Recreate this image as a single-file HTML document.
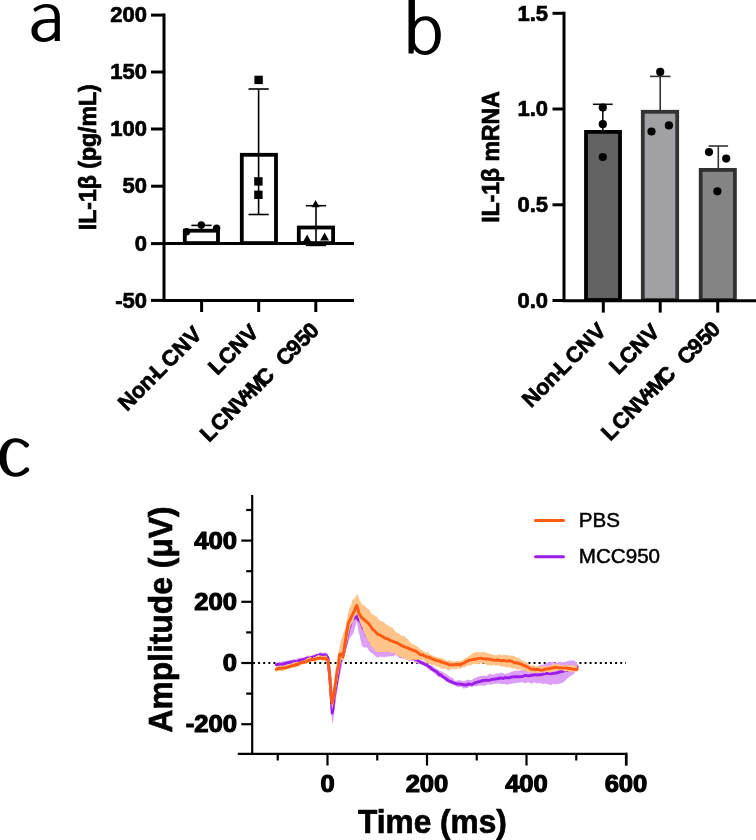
<!DOCTYPE html>
<html><head><meta charset="utf-8"><title>Figure</title>
<style>
html,body{margin:0;padding:0;background:#fff;}
body{width:756px;height:840px;overflow:hidden;font-family:"Liberation Sans",sans-serif;}
svg{display:block;will-change:transform;filter:blur(0.45px);}
svg text{font-family:"Liberation Sans",sans-serif;}
</style></head><body>
<svg width="756" height="840" viewBox="0 0 756 840">
<rect width="756" height="840" fill="#fff"/>
<path transform="translate(20 0) scale(0.07143)" fill="#000" fill-rule="evenodd" d="M185,125 C240,80 310,55 375,55 C480,55 558,110 558,230 L558,575 L485,575 L485,525 C450,565 390,588 330,588 C230,588 160,525 160,430 C160,330 240,265 400,265 L485,265 L485,225 C485,150 440,105 370,105 C310,105 260,130 210,168 Z M485,318 L410,318 C300,318 245,365 245,430 C245,490 280,532 340,532 C400,532 460,490 485,440 Z"/>
<path transform="translate(396 0) scale(0.07143)" fill="#000" fill-rule="evenodd" d="M175,-20 L265,-20 L265,300 C300,250 350,228 420,228 C550,228 628,340 628,490 C628,660 540,770 400,770 C340,770 290,745 250,690 L245,750 L175,750 Z M265,410 C290,330 340,285 405,285 C500,285 548,380 548,500 C548,630 490,715 400,715 C340,715 290,670 265,600 Z"/>
<path transform="translate(0 430) scale(0.07143)" fill="#000" fill-rule="evenodd" d="M398,188 C340,140 280,115 215,115 C80,115 -10,230 -10,390 C-10,550 80,655 215,655 C290,655 350,628 402,578 A36,36 0 0 0 352,528 C315,572 270,600 215,600 C130,600 90,500 90,390 C90,270 135,170 215,170 C270,170 318,195 350,240 A36,36 0 0 0 398,188 Z"/>
<rect x="184.8" y="230.70000000000002" width="33.2" height="12.40" fill="#fff" stroke="#000" stroke-width="3.8"/>
<rect x="241.8" y="154.8" width="34.199999999999974" height="88.30" fill="#fff" stroke="#000" stroke-width="3.8"/>
<rect x="298.79999999999995" y="227.5" width="34.300000000000026" height="15.60" fill="#fff" stroke="#000" stroke-width="3.8"/>
<line x1="201.5" y1="225.4" x2="201.5" y2="230" stroke="#000" stroke-width="1.6" />
<line x1="191.4" y1="225.4" x2="211.6" y2="225.4" stroke="#000" stroke-width="1.6" />
<line x1="258.6" y1="89" x2="258.6" y2="214.5" stroke="#000" stroke-width="1.6" />
<line x1="248.50000000000003" y1="89" x2="268.70000000000005" y2="89" stroke="#000" stroke-width="1.6" />
<line x1="248.50000000000003" y1="214.5" x2="268.70000000000005" y2="214.5" stroke="#000" stroke-width="1.6" />
<line x1="316" y1="205.7" x2="316" y2="245" stroke="#000" stroke-width="1.6" />
<line x1="305.9" y1="205.7" x2="326.1" y2="205.7" stroke="#000" stroke-width="1.6" />
<line x1="305.9" y1="245.4" x2="326.1" y2="245.4" stroke="#000" stroke-width="1.6" />
<line x1="164" y1="243.6" x2="354" y2="243.6" stroke="#000" stroke-width="3" />
<line x1="164" y1="13.6" x2="164" y2="301.9" stroke="#000" stroke-width="3" />
<line x1="162.5" y1="300.4" x2="354" y2="300.4" stroke="#000" stroke-width="3" />
<line x1="151" y1="15.1" x2="164" y2="15.1" stroke="#000" stroke-width="3" />
<text x="147" y="22.2" font-size="22" font-weight="bold" text-anchor="end" fill="#000" stroke="#000" stroke-width="0.7" >200</text>
<line x1="151" y1="72.0" x2="164" y2="72.0" stroke="#000" stroke-width="3" />
<text x="147" y="79.1" font-size="22" font-weight="bold" text-anchor="end" fill="#000" stroke="#000" stroke-width="0.7" >150</text>
<line x1="151" y1="129.0" x2="164" y2="129.0" stroke="#000" stroke-width="3" />
<text x="147" y="136.1" font-size="22" font-weight="bold" text-anchor="end" fill="#000" stroke="#000" stroke-width="0.7" >100</text>
<line x1="151" y1="186.2" x2="164" y2="186.2" stroke="#000" stroke-width="3" />
<text x="147" y="193.29999999999998" font-size="22" font-weight="bold" text-anchor="end" fill="#000" stroke="#000" stroke-width="0.7" >50</text>
<line x1="151" y1="243.6" x2="164" y2="243.6" stroke="#000" stroke-width="3" />
<text x="147" y="250.7" font-size="22" font-weight="bold" text-anchor="end" fill="#000" stroke="#000" stroke-width="0.7" >0</text>
<line x1="151" y1="300.4" x2="164" y2="300.4" stroke="#000" stroke-width="3" />
<text x="147" y="307.5" font-size="22" font-weight="bold" text-anchor="end" fill="#000" stroke="#000" stroke-width="0.7" >-50</text>
<line x1="201.6" y1="300.4" x2="201.6" y2="312" stroke="#000" stroke-width="3" />
<line x1="258.7" y1="300.4" x2="258.7" y2="312" stroke="#000" stroke-width="3" />
<line x1="315.8" y1="300.4" x2="315.8" y2="312" stroke="#000" stroke-width="3" />
<circle cx="201.3" cy="224.9" r="3.7" fill="#000"/>
<circle cx="186.6" cy="231.8" r="3.7" fill="#000"/>
<circle cx="216.6" cy="228.2" r="3.7" fill="#000"/>
<rect x="254.40000000000003" y="75.7" width="8.4" height="8.4" fill="#000"/>
<rect x="254.2" y="177.20000000000002" width="8.4" height="8.4" fill="#000"/>
<rect x="254.2" y="190.60000000000002" width="8.4" height="8.4" fill="#000"/>
<polygon points="315.6,199.9 319.6,207.29999999999998 311.6,207.29999999999998" fill="#000"/>
<polygon points="307.1,234.4 311.5,242.4 302.70000000000005,242.4" fill="#000"/>
<polygon points="324.6,232.5 329.0,240.5 320.20000000000005,240.5" fill="#000"/>
<text x="96.4" y="157.2" font-size="23" font-weight="bold" text-anchor="middle" fill="#000" stroke="#000" stroke-width="0.7" textLength="146" lengthAdjust="spacingAndGlyphs" transform="rotate(-90 96.4 157.2)" >IL-1β (pg/mL)</text>
<text transform="translate(126.9 411.9) rotate(-45) scale(1.0 1)" x="-0.0 15.7 28.9 42.3 45.1 56.9 60.7 76.7 93.3" y="0" font-size="22" font-weight="bold" fill="#000" stroke="#000" stroke-width="0.7">Non-L CNV</text>
<text transform="translate(217.3 376.0) rotate(-45) scale(1.0 1)" x="-0.0 13.6 29.3 45.4" y="0" font-size="22" font-weight="bold" fill="#000" stroke="#000" stroke-width="0.7">LCNV</text>
<text transform="translate(208.9 443.0) rotate(-45) scale(1.0 1)" x="-0.0 14.5 30.5 45.3 55.1 64.7 78.6 107.1 121.6 134.2 145.4" y="0" font-size="22" font-weight="bold" fill="#000" stroke="#000" stroke-width="0.7">LCNV+MCC950</text>
<rect x="586.0" y="131.9" width="33.99999999999996" height="168.10" fill="#636363" stroke="#000" stroke-width="3.8"/>
<rect x="642.8" y="111.80000000000001" width="34.40000000000005" height="188.20" fill="#a1a1a5" stroke="#333" stroke-width="3.8"/>
<rect x="700.6999999999999" y="169.9" width="34.2" height="130.10" fill="#848484" stroke="#303030" stroke-width="3.8"/>
<line x1="602.8" y1="104.3" x2="602.8" y2="131" stroke="#111" stroke-width="1.6" />
<line x1="592.9" y1="104.3" x2="612.6999999999999" y2="104.3" stroke="#111" stroke-width="1.6" />
<line x1="660.2" y1="76.4" x2="660.2" y2="111" stroke="#333" stroke-width="1.6" />
<line x1="649.9000000000001" y1="76.4" x2="670.5" y2="76.4" stroke="#333" stroke-width="1.6" />
<line x1="718.3" y1="146" x2="718.3" y2="169" stroke="#333" stroke-width="1.6" />
<line x1="708.5" y1="146" x2="728.0999999999999" y2="146" stroke="#333" stroke-width="1.6" />
<circle cx="602.8" cy="107.5" r="4.1" fill="#000"/>
<circle cx="602.8" cy="124.2" r="4.1" fill="#000"/>
<circle cx="602.8" cy="157" r="4.1" fill="#000"/>
<circle cx="660.2" cy="71.9" r="4.1" fill="#000"/>
<circle cx="651.5" cy="131.5" r="4.1" fill="#000"/>
<circle cx="668.9" cy="125.4" r="4.1" fill="#000"/>
<circle cx="709" cy="152.1" r="4.1" fill="#000"/>
<circle cx="726.2" cy="158.6" r="4.1" fill="#000"/>
<circle cx="717.4" cy="191.3" r="4.1" fill="#000"/>
<line x1="564" y1="11.8" x2="564" y2="302" stroke="#000" stroke-width="3" />
<line x1="562.5" y1="300.7" x2="756" y2="300.7" stroke="#000" stroke-width="3" />
<line x1="552.5" y1="13.3" x2="564" y2="13.3" stroke="#000" stroke-width="3" />
<text x="548" y="20.700000000000003" font-size="22" font-weight="bold" text-anchor="end" fill="#000" stroke="#000" stroke-width="0.7" >1.5</text>
<line x1="552.5" y1="109.0" x2="564" y2="109.0" stroke="#000" stroke-width="3" />
<text x="548" y="116.4" font-size="22" font-weight="bold" text-anchor="end" fill="#000" stroke="#000" stroke-width="0.7" >1.0</text>
<line x1="552.5" y1="204.8" x2="564" y2="204.8" stroke="#000" stroke-width="3" />
<text x="548" y="212.20000000000002" font-size="22" font-weight="bold" text-anchor="end" fill="#000" stroke="#000" stroke-width="0.7" >0.5</text>
<line x1="552.5" y1="300.5" x2="564" y2="300.5" stroke="#000" stroke-width="3" />
<text x="548" y="307.9" font-size="22" font-weight="bold" text-anchor="end" fill="#000" stroke="#000" stroke-width="0.7" >0.0</text>
<line x1="603.3" y1="300.5" x2="603.3" y2="312.6" stroke="#000" stroke-width="3" />
<line x1="660.2" y1="300.5" x2="660.2" y2="312.6" stroke="#000" stroke-width="3" />
<line x1="717.7" y1="300.5" x2="717.7" y2="312.6" stroke="#000" stroke-width="3" />
<text x="499" y="157" font-size="23" font-weight="bold" text-anchor="middle" fill="#000" stroke="#000" stroke-width="0.7" transform="rotate(-90 499 157)" >IL-1β mRNA</text>
<text transform="translate(531.1 408.5) rotate(-45) scale(1.0 1)" x="-0.0 15.7 28.9 42.3 45.1 56.9 60.7 76.7 93.3" y="0" font-size="22" font-weight="bold" fill="#000" stroke="#000" stroke-width="0.7">Non-L CNV</text>
<text transform="translate(618.3 375.6) rotate(-45) scale(1.0 1)" x="-0.0 13.6 29.3 45.4" y="0" font-size="22" font-weight="bold" fill="#000" stroke="#000" stroke-width="0.7">LCNV</text>
<text transform="translate(610.3 441.8) rotate(-45) scale(1.0 1)" x="-0.0 14.5 30.5 45.3 55.1 64.7 78.6 107.1 121.6 134.2 145.4" y="0" font-size="22" font-weight="bold" fill="#000" stroke="#000" stroke-width="0.7">LCNV+MCC950</text>
<line x1="253" y1="663" x2="626" y2="663" stroke="#000" stroke-width="2" stroke-dasharray="2 3.1"/>
<polygon points="276.3,662.7 278.5,662.0 280.7,662.5 282.9,661.1 285.1,661.6 287.2,660.8 289.3,659.9 291.4,660.3 293.5,659.0 295.6,659.3 297.7,658.2 299.8,657.7 301.9,657.7 304.0,657.8 306.1,656.0 308.2,655.6 310.3,655.7 312.3,655.7 314.3,654.4 316.3,653.5 318.3,654.0 320.3,651.7 322.3,653.3 324.3,652.5 326.3,652.4 327.6,654.3 328.9,656.7 329.1,659.7 329.2,660.6 329.4,663.4 329.6,665.6 329.7,667.2 329.9,669.6 330.0,670.8 330.2,672.9 330.4,675.3 330.5,678.2 330.7,679.9 330.9,681.7 331.0,684.2 331.2,685.9 331.4,687.6 331.5,690.5 331.7,692.4 331.9,693.5 332.1,696.1 332.2,698.0 332.4,700.7 332.8,698.4 333.2,695.6 333.5,694.9 333.9,691.3 334.3,689.9 334.6,688.5 334.8,685.4 335.1,684.0 335.4,681.2 335.6,680.3 335.9,678.5 336.2,676.1 336.5,674.7 336.7,671.7 337.0,670.4 337.5,668.0 338.0,665.9 338.5,663.5 338.9,662.0 339.4,660.1 339.9,657.1 340.4,655.3 340.9,652.2 341.4,651.4 341.9,649.3 342.4,647.9 342.9,645.6 343.4,642.6 343.9,640.8 344.4,639.3 344.9,636.1 345.4,634.9 346.2,632.2 347.1,630.0 347.9,627.7 348.8,626.8 349.6,623.5 350.5,621.5 351.9,619.6 353.4,618.2 354.8,614.5 356.2,612.9 360.0,615.1 362.0,617.7 364.0,619.6 366.0,621.7 368.0,622.6 370.0,624.8 372.0,626.1 374.0,628.5 376.0,630.0 378.0,630.0 380.0,631.4 382.1,633.1 384.3,634.7 386.4,636.8 388.6,638.6 390.7,639.6 392.7,640.7 394.7,643.1 396.7,644.6 398.7,646.5 400.7,648.8 402.7,649.7 404.7,650.8 406.8,652.4 408.8,653.9 410.8,654.2 413.1,656.9 415.4,657.9 417.7,659.2 420.0,660.2 422.2,660.8 424.4,662.0 426.6,662.8 428.8,665.0 430.9,665.2 433.1,666.5 435.3,668.0 437.5,669.2 439.7,670.8 441.9,671.5 444.0,672.7 446.2,674.3 448.4,675.5 450.5,677.2 452.7,677.9 454.9,680.7 457.1,680.6 459.3,680.1 461.5,680.7 463.7,681.2 465.8,680.6 467.8,679.6 469.9,680.2 472.0,679.9 474.1,678.3 476.1,677.7 478.2,676.4 480.3,676.0 482.4,676.0 484.5,675.4 486.5,676.0 488.6,674.4 490.7,673.8 492.8,675.0 494.9,674.1 496.9,673.2 499.0,673.7 501.1,672.5 503.2,673.3 505.2,673.9 507.3,673.5 509.4,672.7 511.5,671.5 513.6,671.3 515.6,670.5 517.7,671.1 519.8,670.3 521.9,670.3 524.0,669.0 526.0,668.3 528.1,668.9 530.2,668.7 532.3,668.0 534.3,667.4 536.4,667.0 538.5,666.3 540.6,664.8 542.7,664.8 544.7,664.0 546.8,662.8 548.9,662.3 551.0,662.2 553.1,662.0 555.1,662.5 557.2,662.8 559.3,661.6 561.4,662.3 563.4,662.2 565.5,661.9 567.7,660.9 569.9,660.6 572.0,660.6 574.2,660.6 577.7,664.0 577.7,669.8 575.6,671.5 573.4,674.5 571.3,675.4 569.1,677.2 567.0,678.7 564.8,681.0 562.6,682.7 560.3,683.4 558.0,683.9 555.6,684.4 553.3,683.8 551.0,685.3 548.9,684.5 546.8,684.0 544.7,683.6 542.7,684.1 540.6,683.3 538.5,683.0 536.4,683.5 534.3,682.2 532.3,683.7 530.2,682.9 528.1,682.3 526.0,683.0 524.0,683.3 521.9,682.0 519.8,682.7 517.7,682.5 515.6,683.3 513.6,683.2 511.5,684.0 509.4,683.8 507.3,684.9 505.2,684.0 503.2,684.1 501.1,683.9 499.0,683.6 496.9,683.8 494.9,683.7 492.8,683.9 490.7,684.7 488.6,684.2 486.5,684.6 484.5,686.0 482.4,685.6 480.3,685.4 478.2,685.8 476.1,686.8 474.1,685.7 472.0,687.4 469.9,686.3 467.8,687.9 465.8,687.9 463.7,688.7 461.5,686.8 459.3,687.0 457.1,687.1 454.9,685.6 452.7,684.3 450.5,684.1 448.4,682.5 446.2,681.8 444.0,679.1 441.9,677.9 439.7,677.6 437.5,676.4 435.3,674.0 433.1,672.0 430.9,670.7 428.8,670.1 426.6,667.2 424.4,666.1 422.2,664.3 420.0,664.3 417.7,663.4 415.4,663.1 413.1,660.8 410.8,661.0 408.4,660.6 406.0,659.5 403.5,658.3 401.1,658.5 398.4,657.2 395.7,654.7 393.3,656.5 391.0,656.3 388.6,656.6 386.5,656.8 384.3,657.1 382.2,657.0 380.0,656.5 377.9,657.7 375.8,656.7 373.7,654.5 371.6,653.0 369.4,651.4 367.1,647.4 364.5,647.4 361.8,645.9 361.3,642.2 360.7,640.8 360.2,638.6 359.6,635.3 359.1,634.3 358.6,631.8 358.2,629.3 357.7,625.9 357.3,623.9 356.8,621.2 356.1,624.3 355.3,626.2 354.6,628.7 353.8,632.4 352.0,635.2 350.2,637.2 349.1,639.3 348.1,643.2 347.0,645.7 346.4,647.5 345.8,650.1 345.2,651.5 344.7,653.7 344.1,655.7 343.5,658.3 343.1,660.1 342.6,662.3 342.2,664.6 341.8,666.4 341.3,669.4 340.9,671.2 340.4,673.0 340.0,675.0 339.6,677.5 339.3,678.6 338.9,680.5 338.6,683.1 338.2,684.3 337.9,687.5 337.6,689.1 337.2,691.0 336.9,692.7 336.5,695.1 336.2,697.5 336.0,699.2 335.8,700.8 335.5,704.0 335.2,704.7 335.0,707.2 334.8,709.8 334.5,711.1 334.2,714.0 333.9,716.1 333.6,718.0 333.4,720.8 333.1,721.9 332.8,724.7 332.4,721.9 332.1,719.4 331.8,717.0 331.4,715.7 331.2,712.3 331.1,710.7 330.9,708.3 330.7,706.8 330.6,704.1 330.4,702.1 330.2,700.0 330.1,697.8 329.9,696.8 329.7,694.8 329.6,692.0 329.4,690.8 329.2,688.0 329.1,686.3 328.9,684.8 328.8,681.1 328.6,679.3 328.5,678.1 328.4,675.7 328.2,674.3 328.1,672.9 327.9,670.6 327.8,667.4 327.6,666.6 327.4,664.7 327.3,661.4 326.2,657.5 323.2,657.4 320.3,658.1 318.3,659.0 316.3,658.5 314.3,659.0 312.3,660.5 310.3,660.7 308.2,660.4 306.1,661.7 304.0,661.1 301.9,662.2 299.8,663.2 297.7,663.7 295.6,664.4 293.5,664.3 291.4,663.7 289.3,665.4 287.2,665.6 285.1,665.7 282.9,666.7 280.7,667.2 278.5,667.0 276.3,666.7" fill="#dba0f6"/>
<polyline points="276.3,664.7 278.1,664.3 279.8,664.7 281.6,664.4 283.3,664.0 285.1,663.3 286.7,663.0 288.2,662.7 289.8,662.5 291.4,661.9 293.0,661.9 294.6,661.4 296.1,661.7 297.7,661.4 299.3,660.7 300.9,660.0 302.4,660.3 304.0,659.3 305.6,659.0 307.1,658.3 308.7,658.3 310.3,658.0 312.0,657.5 313.6,656.7 315.3,656.5 317.0,655.6 318.6,655.3 320.3,654.6 322.2,655.1 324.1,654.9 326.0,655.1 328.0,657.8 328.1,659.3 328.3,661.2 328.4,662.7 328.6,664.5 328.7,666.0 328.9,667.6 329.0,669.3 329.1,670.4 329.3,671.9 329.4,674.1 329.6,674.9 329.7,677.0 329.9,678.4 330.0,679.5 330.2,681.7 330.3,683.4 330.4,684.6 330.5,686.2 330.6,687.8 330.7,688.7 330.8,690.5 330.9,692.0 331.0,693.8 331.1,695.3 331.2,696.8 331.2,698.1 331.3,699.9 331.4,701.2 331.5,702.7 331.6,703.8 331.7,705.1 331.8,706.7 331.9,708.4 332.0,709.6 332.1,711.8 332.2,713.1 332.5,711.4 332.8,709.8 333.1,708.2 333.2,706.3 333.4,704.2 333.6,703.3 333.7,701.6 333.9,699.7 334.0,698.0 334.2,696.6 334.5,694.6 334.8,693.7 335.0,691.8 335.2,690.1 335.5,688.8 335.8,687.7 336.0,685.7 336.3,684.6 336.6,683.3 336.9,681.3 337.1,679.6 337.4,678.1 337.7,676.7 338.0,675.2 338.2,673.5 338.5,671.9 338.8,669.7 339.0,668.2 339.2,666.7 339.5,665.5 339.8,663.4 340.0,662.1 341.0,659.6 342.0,657.6 342.5,656.3 343.0,655.2 343.5,653.7 344.0,652.2 344.3,650.3 344.7,649.0 345.0,647.5 345.3,646.0 345.7,644.2 346.0,643.4 346.3,641.1 346.6,640.2 346.9,638.5 347.2,636.1 347.6,634.8 347.9,633.5 348.2,632.0 348.5,630.0 349.0,628.3 349.5,626.7 350.0,625.9 350.5,623.7 351.0,622.6 351.5,620.7 353.0,619.3 354.5,617.9 356.6,616.2 358.0,619.3 360.5,621.5 361.1,623.3 361.7,624.7 362.4,625.8 363.0,627.9 363.6,629.0 364.5,630.3 365.3,632.1 366.1,634.2 367.0,636.0 367.9,637.3 368.9,638.7 369.8,640.4 370.7,641.8 372.1,643.8 373.4,644.6 374.8,646.7 376.1,648.3 377.9,648.0 379.7,649.0 381.4,649.1 383.2,649.6 385.0,649.3 386.8,649.6 388.6,649.8 390.3,650.5 392.1,650.4 393.9,650.4 395.4,651.2 396.9,651.8 398.4,652.3 399.9,653.1 401.4,654.6 402.9,654.8 404.4,655.8 406.0,655.6 407.5,656.0 409.0,656.6 410.5,656.7 412.1,657.3 413.6,658.2 415.2,659.1 416.8,659.9 418.4,660.7 420.0,661.9 421.7,662.9 423.5,663.5 425.2,664.6 427.0,665.0 428.7,666.6 430.5,667.6 432.2,669.2 434.0,670.4 435.7,671.3 437.5,672.4 439.2,674.5 441.0,675.0 442.7,676.6 444.5,677.8 446.2,679.0 447.9,680.3 449.7,681.3 451.4,681.6 453.2,682.8 454.9,683.3 456.7,683.9 458.4,684.0 460.2,684.1 461.9,684.4 463.7,684.7 465.4,685.1 467.2,684.5 468.9,684.0 470.7,684.4 472.4,684.2 474.1,683.3 475.7,682.6 477.4,682.2 479.0,681.6 480.7,681.4 482.3,680.7 484.0,680.4 485.6,680.2 487.2,680.2 488.9,680.3 490.5,679.9 492.1,679.4 493.7,679.2 495.4,679.1 497.0,678.7 498.6,678.5 500.2,678.0 501.8,678.1 503.4,678.5 505.0,677.6 506.7,677.8 508.3,677.7 509.9,677.8 511.5,677.0 513.1,676.9 514.7,676.7 516.3,676.7 518.0,676.6 519.6,676.9 521.2,676.6 522.8,676.5 524.5,675.6 526.1,675.4 527.7,675.9 529.3,675.9 530.9,675.3 532.5,675.3 534.1,674.6 535.8,674.8 537.4,675.1 539.0,674.8 540.6,674.7 542.2,674.6 543.8,673.8 545.4,673.5 547.1,673.4 548.7,673.6 550.3,673.6 551.9,673.7 553.6,673.3 555.2,673.1 556.8,673.0 558.5,672.3 560.1,672.0 561.8,671.1 563.4,671.3 565.1,670.4 566.7,670.6 568.4,669.9 570.2,669.0 571.9,668.3 573.7,667.8 575.4,667.6 577.2,666.9" fill="none" stroke="#9a1de8" stroke-width="2.9" stroke-linejoin="round" stroke-linecap="round"/>
<polygon points="276.3,667.2 278.5,665.8 280.7,665.4 282.9,665.9 285.1,665.7 287.2,664.8 289.3,663.8 291.4,663.9 293.5,662.2 295.6,662.1 297.7,661.7 299.8,661.9 301.9,660.7 304.0,660.4 306.1,659.0 308.2,657.8 310.3,657.1 312.3,658.0 314.3,657.2 316.3,656.1 318.3,655.1 320.3,655.6 322.3,656.0 324.4,655.7 326.4,655.6 327.7,658.3 329.0,660.8 329.2,661.7 329.4,663.4 329.6,666.1 329.8,668.4 330.0,671.0 330.2,672.3 330.4,675.5 330.6,677.6 330.8,679.3 330.9,680.8 331.1,684.3 331.3,685.3 331.4,688.3 331.6,689.4 331.8,691.5 332.2,694.5 332.7,695.6 332.9,694.8 333.2,692.0 333.4,689.4 333.7,687.5 333.9,685.9 334.1,684.3 334.4,682.8 334.6,679.4 334.8,677.8 335.0,675.5 335.2,674.9 335.5,671.4 335.8,669.2 336.0,667.2 336.2,665.8 336.5,664.7 336.9,662.6 337.2,660.2 337.6,658.6 337.9,656.4 338.2,653.2 338.6,650.8 339.1,650.0 339.5,647.4 339.9,643.9 340.4,642.8 341.1,640.2 341.9,638.1 342.6,635.9 343.3,633.6 344.1,631.2 344.8,629.6 345.2,627.7 345.6,626.8 346.0,623.3 346.4,622.8 346.8,619.5 347.2,617.7 347.6,616.6 348.0,614.6 348.4,611.9 349.1,609.1 349.9,607.8 350.6,605.6 351.4,604.5 352.1,601.1 352.9,599.4 355.1,597.7 357.3,593.5 358.2,596.3 359.1,599.1 360.0,601.2 360.9,602.0 361.8,604.2 364.5,605.6 367.1,608.5 368.9,609.3 370.7,612.3 372.5,614.6 374.7,615.4 376.9,617.0 379.2,620.0 381.4,621.2 383.6,622.1 385.9,624.5 388.1,625.4 390.4,626.9 392.6,628.0 394.9,630.9 397.1,632.8 399.3,633.8 401.5,635.9 403.8,635.8 406.0,637.8 408.2,639.8 410.4,642.4 412.6,644.2 414.9,645.0 417.1,646.6 420.8,649.4 423.1,650.6 425.4,652.4 427.7,652.1 430.0,654.3 432.3,655.3 434.6,656.5 436.7,657.1 438.7,657.6 440.8,657.8 442.9,658.5 445.0,659.4 447.0,660.9 449.1,660.3 451.4,660.7 453.7,661.8 456.1,661.0 458.4,660.8 460.7,660.9 462.7,660.2 464.8,658.2 466.8,657.8 468.9,656.1 470.9,654.7 472.9,653.0 475.0,652.3 477.0,651.9 479.1,652.2 481.1,652.2 483.2,652.1 485.3,652.2 487.4,652.9 489.4,653.7 491.5,654.2 493.6,654.7 495.7,655.3 497.8,655.1 499.8,654.2 501.9,655.6 504.0,654.7 506.1,655.2 508.1,655.0 510.2,655.7 512.5,655.6 514.9,656.6 517.2,657.5 519.6,658.2 521.9,660.4 523.9,661.0 525.9,661.7 528.0,663.0 530.0,665.2 532.0,665.5 534.0,665.2 536.1,666.4 538.1,666.3 540.2,667.1 542.2,665.7 544.3,666.1 546.4,666.5 548.5,666.2 550.5,666.1 552.6,664.3 554.7,664.5 556.8,663.9 558.8,664.1 560.9,665.6 562.9,665.0 565.0,665.7 567.0,664.8 569.0,665.8 571.1,665.1 573.1,664.9 575.2,665.9 577.2,665.5 577.2,672.2 575.2,671.6 573.1,671.2 571.1,672.5 569.0,671.6 567.0,671.3 565.0,671.5 562.9,670.5 560.9,670.2 558.8,670.0 556.8,670.4 554.7,671.3 552.6,671.5 550.5,672.5 548.5,672.2 546.4,671.8 544.3,673.1 542.2,672.0 540.2,673.2 538.1,672.2 536.1,672.7 534.0,673.3 532.0,672.5 530.0,672.3 528.0,672.5 525.9,670.6 523.9,670.9 521.9,669.6 519.6,669.6 517.2,669.8 514.9,667.7 512.5,668.6 510.2,667.6 508.1,667.3 506.1,667.6 504.0,666.4 501.9,666.6 499.8,666.1 497.8,665.1 495.7,666.0 493.6,664.7 491.5,665.8 489.4,665.2 487.4,665.4 485.3,663.8 483.2,663.6 481.1,663.2 479.1,663.8 477.0,664.3 475.0,663.9 472.9,664.0 470.9,665.4 468.9,665.4 466.8,665.5 464.8,667.4 462.7,667.2 460.7,669.1 458.4,668.1 456.1,669.4 453.7,669.0 451.4,668.7 449.1,670.6 447.0,669.7 445.0,668.0 442.9,668.7 440.8,668.2 438.7,666.7 436.7,667.0 434.6,664.9 432.3,665.1 430.0,663.9 427.7,663.4 425.4,662.1 423.1,659.8 420.8,660.3 418.4,659.6 416.0,660.1 413.6,659.6 411.5,660.1 409.3,660.2 407.2,659.7 405.0,658.2 402.9,658.8 400.6,656.4 398.4,655.9 396.1,654.4 393.9,652.5 391.7,652.9 389.4,652.1 387.2,651.8 385.0,652.3 382.8,651.5 380.6,651.8 378.3,652.1 376.1,651.9 374.3,648.9 372.5,647.2 370.7,645.4 369.5,642.3 368.2,641.0 367.0,638.9 365.9,636.9 364.7,634.1 363.6,631.9 362.8,629.5 362.0,627.1 361.1,625.5 360.3,623.3 359.5,621.2 358.8,618.3 358.1,617.6 357.5,614.2 356.8,613.5 355.7,615.4 354.6,616.8 353.5,620.7 352.6,622.4 351.8,623.5 350.9,625.3 350.0,627.8 349.6,630.0 349.1,631.8 348.7,633.5 348.3,635.4 347.9,638.6 347.4,640.6 347.0,641.8 346.6,643.5 346.2,646.5 345.8,647.4 345.4,650.6 345.0,652.2 344.6,655.0 344.2,656.3 343.9,659.5 343.5,660.2 341.0,660.0 340.6,662.9 340.2,664.8 339.9,665.3 339.5,667.5 339.2,670.8 338.8,672.5 338.5,674.0 338.2,675.3 337.8,678.8 337.5,680.0 337.2,681.6 336.8,683.4 336.5,686.0 336.2,687.8 335.8,690.2 335.5,691.3 335.2,694.9 334.8,696.7 334.5,698.7 334.1,699.9 333.8,702.4 333.0,705.7 332.2,709.3 331.8,706.3 331.4,704.9 330.9,702.0 330.5,700.7 330.3,697.1 330.2,695.5 330.0,694.4 329.9,691.5 329.7,689.8 329.5,688.9 329.4,686.7 329.2,683.8 329.1,681.7 328.9,680.1 328.7,677.7 328.5,676.8 328.3,673.7 328.1,671.6 328.0,669.8 327.8,668.4 327.6,665.4 327.4,663.3 326.4,661.3 324.4,660.9 322.3,660.4 320.3,659.7 318.3,660.0 316.3,661.3 314.3,662.1 312.3,661.5 310.3,662.1 308.2,662.5 306.1,664.1 304.0,664.2 301.9,664.3 299.8,665.4 297.7,666.9 295.6,667.4 293.5,667.4 291.4,668.0 289.3,668.5 287.2,669.5 285.1,669.9 282.9,670.9 280.7,671.2 278.5,670.6 276.3,672.4" fill="#ffc48a"/>
<polyline points="276.3,669.3 278.1,668.5 279.8,668.3 281.6,668.3 283.3,667.9 285.1,667.9 286.7,667.3 288.2,667.1 289.8,666.7 291.4,665.8 293.0,665.7 294.6,665.1 296.1,664.3 297.7,664.6 299.3,663.4 300.9,662.8 302.4,662.3 304.0,662.2 305.6,661.9 307.1,661.3 308.7,660.4 310.3,659.8 312.0,659.2 313.6,659.5 315.3,659.1 317.0,658.5 318.6,658.5 320.3,657.9 322.2,658.5 324.1,658.4 326.0,658.1 328.0,660.9 328.2,661.6 328.3,663.5 328.5,664.9 328.7,666.3 328.9,667.6 329.0,669.8 329.2,670.6 329.4,672.5 329.5,674.4 329.7,675.2 329.8,676.7 329.9,678.6 330.0,680.0 330.1,681.6 330.2,683.3 330.3,684.2 330.5,685.8 330.6,687.3 330.7,688.6 330.8,690.9 330.9,692.3 331.0,693.7 331.1,694.6 331.3,696.9 331.5,698.5 331.7,699.9 331.9,701.8 332.1,703.2 332.5,701.2 332.9,699.4 333.3,697.8 333.5,696.1 333.7,694.9 333.9,693.7 334.1,692.2 334.4,690.8 334.6,689.2 334.8,687.3 335.0,686.0 335.2,684.4 335.4,683.1 335.7,681.4 335.9,679.6 336.1,678.4 336.3,677.1 336.6,674.9 336.8,673.9 337.0,671.6 337.3,670.2 337.6,668.6 338.0,667.4 338.3,666.0 338.6,664.2 338.8,662.3 338.9,661.2 339.1,659.1 339.2,657.4 339.4,656.5 339.5,654.6 341.0,653.7 342.0,655.1 343.0,656.9 343.3,654.8 343.5,653.4 343.8,651.6 344.0,650.0 344.3,647.9 344.5,646.7 344.8,645.1 345.0,643.3 345.2,641.7 345.5,640.6 345.7,638.6 346.0,637.8 346.2,635.5 346.5,633.8 346.8,632.2 347.0,631.4 347.3,629.3 347.6,627.5 347.9,625.8 348.1,624.2 348.4,623.2 349.1,621.6 349.9,620.2 350.6,618.7 351.4,616.6 352.1,615.6 352.9,613.9 353.5,612.8 354.2,611.3 354.9,609.9 355.5,607.6 356.1,606.8 356.8,605.4 357.3,607.2 357.7,608.2 358.2,610.1 358.6,611.8 359.1,613.5 360.5,616.0 361.8,617.8 363.6,619.1 365.3,620.8 367.1,622.1 368.5,623.6 369.8,625.2 371.1,627.0 372.5,629.3 374.3,630.6 376.1,632.5 377.9,634.4 379.7,634.9 381.4,636.0 383.2,636.9 385.0,638.2 386.8,638.6 388.6,639.3 390.3,640.6 392.1,640.9 393.9,641.9 395.4,642.5 396.9,642.7 398.4,643.8 399.9,644.5 401.4,645.6 402.9,646.0 404.4,646.9 406.0,647.4 407.5,647.7 409.0,648.9 410.5,648.9 412.1,650.2 413.6,650.2 415.4,651.1 417.2,652.2 419.0,653.7 420.8,654.9 422.3,654.6 423.9,655.6 425.4,656.2 426.9,657.1 428.5,657.1 430.0,658.0 431.5,658.4 433.1,659.4 434.6,659.5 436.2,660.6 437.8,660.6 439.4,661.1 441.0,662.1 442.7,662.4 444.3,662.6 445.9,663.6 447.5,663.7 449.1,664.9 450.8,664.8 452.4,664.9 454.1,664.7 455.7,664.5 457.4,664.5 459.0,664.5 460.7,665.0 462.4,663.4 464.1,663.3 465.8,661.7 467.5,661.1 469.2,660.3 470.9,660.1 472.6,659.5 474.3,659.1 476.0,659.3 477.7,658.5 479.4,658.4 481.1,658.2 482.7,658.7 484.3,658.9 486.0,659.0 487.6,659.0 489.2,659.2 490.8,659.2 492.5,660.1 494.1,660.1 495.7,660.4 497.3,660.0 498.9,660.3 500.5,660.7 502.1,660.7 503.8,660.4 505.4,660.8 507.0,661.2 508.6,660.8 510.2,660.8 511.9,661.4 513.5,662.3 515.2,662.9 516.9,662.8 518.6,663.3 520.2,663.9 521.9,664.4 523.6,665.4 525.3,665.9 527.0,666.8 528.6,667.5 530.3,668.9 532.0,669.5 533.7,669.0 535.4,669.9 537.1,669.2 538.8,669.5 540.5,670.2 542.2,670.1 543.8,669.8 545.4,669.2 547.1,668.8 548.7,668.9 550.3,668.2 551.9,668.0 553.6,667.9 555.2,667.3 556.8,667.4 558.5,667.9 560.1,667.9 561.8,667.9 563.4,668.1 565.1,668.1 566.7,667.9 568.4,668.5 570.2,668.5 571.9,669.0 573.7,669.3 575.4,669.1 577.2,669.3" fill="none" stroke="#ff5a12" stroke-width="2.9" stroke-linejoin="round" stroke-linecap="round"/>
<line x1="252.2" y1="495" x2="252.2" y2="754.9" stroke="#000" stroke-width="2.2" />
<line x1="237.8" y1="753.8" x2="626.5" y2="753.8" stroke="#000" stroke-width="2.2" />
<line x1="241.3" y1="540.6" x2="252" y2="540.6" stroke="#000" stroke-width="2.2" />
<text x="237" y="548.5" font-size="23.5" font-weight="bold" text-anchor="end" fill="#000" stroke="#000" stroke-width="1.1" textLength="42.7" lengthAdjust="spacingAndGlyphs" >400</text>
<line x1="241.3" y1="601.8" x2="252" y2="601.8" stroke="#000" stroke-width="2.2" />
<text x="237" y="609.6999999999999" font-size="23.5" font-weight="bold" text-anchor="end" fill="#000" stroke="#000" stroke-width="1.1" textLength="42.7" lengthAdjust="spacingAndGlyphs" >200</text>
<line x1="241.3" y1="663.0" x2="252" y2="663.0" stroke="#000" stroke-width="2.2" />
<text x="237" y="670.9" font-size="23.5" font-weight="bold" text-anchor="end" fill="#000" stroke="#000" stroke-width="1.1" textLength="14.2" lengthAdjust="spacingAndGlyphs" >0</text>
<line x1="241.3" y1="724.2" x2="252" y2="724.2" stroke="#000" stroke-width="2.2" />
<text x="237" y="732.1" font-size="23.5" font-weight="bold" text-anchor="end" fill="#000" stroke="#000" stroke-width="1.1" textLength="51.3" lengthAdjust="spacingAndGlyphs" >-200</text>
<line x1="246.2" y1="510.0" x2="252" y2="510.0" stroke="#000" stroke-width="2.2" />
<line x1="246.2" y1="571.2" x2="252" y2="571.2" stroke="#000" stroke-width="2.2" />
<line x1="246.2" y1="632.4" x2="252" y2="632.4" stroke="#000" stroke-width="2.2" />
<line x1="246.2" y1="693.6" x2="252" y2="693.6" stroke="#000" stroke-width="2.2" />
<line x1="327.5" y1="753.8" x2="327.5" y2="765.5" stroke="#000" stroke-width="2.2" />
<text x="327.5" y="792.4" font-size="23.5" font-weight="bold" text-anchor="middle" fill="#000" stroke="#000" stroke-width="1.1" textLength="14.2" lengthAdjust="spacingAndGlyphs" >0</text>
<line x1="427.0" y1="753.8" x2="427.0" y2="765.5" stroke="#000" stroke-width="2.2" />
<text x="427.0" y="792.4" font-size="23.5" font-weight="bold" text-anchor="middle" fill="#000" stroke="#000" stroke-width="1.1" textLength="42.7" lengthAdjust="spacingAndGlyphs" >200</text>
<line x1="526.5" y1="753.8" x2="526.5" y2="765.5" stroke="#000" stroke-width="2.2" />
<text x="526.5" y="792.4" font-size="23.5" font-weight="bold" text-anchor="middle" fill="#000" stroke="#000" stroke-width="1.1" textLength="42.7" lengthAdjust="spacingAndGlyphs" >400</text>
<line x1="626.0" y1="753.8" x2="626.0" y2="765.5" stroke="#000" stroke-width="2.2" />
<text x="626.0" y="792.4" font-size="23.5" font-weight="bold" text-anchor="middle" fill="#000" stroke="#000" stroke-width="1.1" textLength="42.7" lengthAdjust="spacingAndGlyphs" >600</text>
<line x1="277.75" y1="753.8" x2="277.75" y2="760.5" stroke="#000" stroke-width="2.2" />
<line x1="377.25" y1="753.8" x2="377.25" y2="760.5" stroke="#000" stroke-width="2.2" />
<line x1="476.75" y1="753.8" x2="476.75" y2="760.5" stroke="#000" stroke-width="2.2" />
<line x1="576.25" y1="753.8" x2="576.25" y2="760.5" stroke="#000" stroke-width="2.2" />
<line x1="626.5" y1="752.7" x2="626.5" y2="765.5" stroke="#000" stroke-width="2.2" />
<text x="171.9" y="619.5" font-size="33.5" font-weight="bold" text-anchor="middle" fill="#000" stroke="#000" stroke-width="0.7" textLength="226" lengthAdjust="spacingAndGlyphs" transform="rotate(-90 171.9 619.5)" >Amplitude (μV)</text>
<text x="432.4" y="833.3" font-size="33" font-weight="bold" text-anchor="middle" fill="#000" stroke="#000" stroke-width="0.7" textLength="148.7" lengthAdjust="spacingAndGlyphs" >Time (ms)</text>
<line x1="535.5" y1="520.5" x2="563.5" y2="520.5" stroke="#ff5a12" stroke-width="3" stroke-linecap="round"/>
<line x1="535.5" y1="556.7" x2="563.5" y2="556.7" stroke="#9a1de8" stroke-width="3" stroke-linecap="round"/>
<text x="578.8" y="526.6" font-size="20.6" font-weight="normal" text-anchor="start" fill="#000" stroke="#000" stroke-width="0.5">PBS</text>
<text x="578.8" y="562.9" font-size="20.6" font-weight="normal" text-anchor="start" fill="#000" stroke="#000" stroke-width="0.5">MCC950</text>
</svg>
</body></html>
